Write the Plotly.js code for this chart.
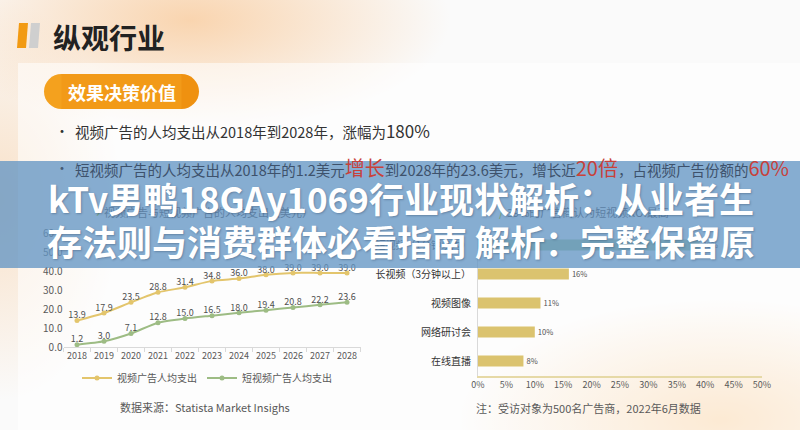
<!DOCTYPE html>
<html>
<head>
<meta charset="utf-8">
<script src="https://cdn.plot.ly/plotly-3.0.1.min.js"></script>
<style>
  html, body { margin: 0; padding: 0; }
  #chart {
    width: 800px; height: 430px;
    background:
      radial-gradient(ellipse 260px 110px at 190px 20px, rgba(249,200,150,0.75), rgba(255,255,255,0) 100%),
      radial-gradient(ellipse 120px 200px at 0px 200px, rgba(248,205,160,0.55), rgba(255,255,255,0) 100%),
      radial-gradient(ellipse 260px 120px at 720px 420px, rgba(248,190,120,0.7), rgba(255,255,255,0) 100%),
      #fafafa;
  }
</style>
</head>
<body>
<div id="chart"></div>
<script>
// ---- data ----
const years = ['2018','2019','2020','2021','2022','2023','2024','2025','2026','2027','2028'];
const videoSpend = [13.9, 17.9, 23.5, 28.8, 31.4, 34.8, 36.0, 38.0, 39.0, 39.0, 39.0];
const shortSpend = [1.2, 3.0, 7.1, 12.8, 15.0, 16.5, 18.0, 19.4, 20.8, 22.2, 23.6];
const seriesNames = ['视频广告人均支出', '短视频广告人均支出'];
const roiCats = ['短视频（1分钟以内）', '长视频（3分钟以上）', '视频图像', '网络研讨会', '在线直播'];
const roiShare = [0.39, 0.16, 0.11, 0.10, 0.08];

// ---- helpers (pixel -> paper) ----
const X = p => p / 800;
const Y = p => 1 - p / 430;
const FONT = '"Noto Sans CJK SC", "Noto Sans", sans-serif';
const cYellow = '#E3C56C', cGreen = '#9DBC84', cBar = '#DBC36F', cBarTop = '#A8C690';

const traces = [
  {x: years, y: videoSpend, name: seriesNames[0], type: 'scatter', mode: 'lines+markers',
   line: {color: cYellow, width: 2, shape: 'spline', smoothing: 0.6}, marker: {size: 5, color: cYellow},
   xaxis: 'x', yaxis: 'y'},
  {x: years, y: shortSpend, name: seriesNames[1], type: 'scatter', mode: 'lines+markers',
   line: {color: cGreen, width: 2, shape: 'spline', smoothing: 0.6}, marker: {size: 5, color: cGreen},
   xaxis: 'x', yaxis: 'y'},
  {x: years, y: videoSpend, type: 'scatter', mode: 'text', texttemplate: '%{y:.1f}', textposition: 'top center',
   textfont: {size: 9, color: '#505050'}, showlegend: false, hoverinfo: 'skip', cliponaxis: false, xaxis: 'x', yaxis: 'y'},
  {x: years, y: shortSpend, type: 'scatter', mode: 'text', texttemplate: '%{y:.1f}', textposition: 'top center',
   textfont: {size: 9, color: '#505050'}, showlegend: false, hoverinfo: 'skip', cliponaxis: false, xaxis: 'x', yaxis: 'y'},
  {x: roiShare, y: roiCats, type: 'bar', orientation: 'h', width: 0.38,
   marker: {color: roiShare.map((v, i) => i === 0 ? cBarTop : cBar)},
   texttemplate: '%{x:.0%}', textposition: 'outside', textfont: {size: 9, color: '#505050'},
   cliponaxis: false, showlegend: false, xaxis: 'x2', yaxis: 'y2'}
];

function pathPx(pts) {
  return 'M ' + pts.map(p => X(p[0]) + ',' + Y(p[1])).join(' L ') + ' Z';
}

const shapes = [
  {type: 'rect', xref: 'paper', yref: 'paper', x0: X(18), x1: X(800), y0: Y(430), y1: Y(63),
   fillcolor: 'rgba(255,255,255,0.55)', line: {width: 0}, layer: 'below'},
  {type: 'path', xref: 'paper', yref: 'paper', path: pathPx([[19,23],[28,23],[26,48],[17,48]]),
   fillcolor: '#F29A12', line: {width: 0}, layer: 'below'},
  {type: 'path', xref: 'paper', yref: 'paper', path: pathPx([[31,23],[40,23],[38,48],[29,48]]),
   fillcolor: '#CFCFCF', line: {width: 0}, layer: 'below'},
  {type: 'circle', xref: 'paper', yref: 'paper', x0: X(44), x1: X(79), y0: Y(109), y1: Y(74),
   fillcolor: '#F4A11E', line: {width: 0}, layer: 'below'},
  {type: 'circle', xref: 'paper', yref: 'paper', x0: X(164), x1: X(199), y0: Y(109), y1: Y(74),
   fillcolor: '#EF9110', line: {width: 0}, layer: 'below'},
  {type: 'rect', xref: 'paper', yref: 'paper', x0: X(61.5), x1: X(181.5), y0: Y(109), y1: Y(74),
   fillcolor: '#F29A18', line: {width: 0}, layer: 'below'},
  {type: 'rect', xref: 'paper', yref: 'paper', x0: 0, x1: 1, y0: Y(268), y1: Y(161),
   fillcolor: 'rgba(100,150,196,0.78)', line: {width: 0}, layer: 'above'}
];

const ann = (text, x, y, size, color, extra) => Object.assign({
  text: text, xref: 'paper', yref: 'paper', x: X(x), y: Y(y), showarrow: false,
  xanchor: 'left', yanchor: 'middle', font: {family: FONT, size: size, color: color}
}, extra || {});

const bannerFont = {family: FONT, size: 35, color: '#ffffff', weight: 700, shadow: '1px 1px 2px rgba(40,60,90,0.35)'};

const annotations = [
  ann('纵观行业', 51, 37, 28, '#222222', {font: {family: FONT, size: 28, color: '#222222', weight: 700}}),
  ann('效果决策价值', 121.5, 92, 18, '#ffffff', {xanchor: 'center', font: {family: FONT, size: 18, color: '#ffffff', weight: 700}}),
  ann('•', 53, 130, 14, '#333333'),
  ann('视频广告的人均支出从2018年到2028年，涨幅为<span style="font-size:17px">180%</span>', 73, 130, 14.5, '#333333'),
  ann('•', 53, 167, 14, 'rgb(70,92,118)'),
  ann('短视频广告的人均支出从2018年的1.2美元<span style="color:#c8413a;font-size:20px">增长</span>到2028年的23.6美元，增长近<span style="color:#c8413a;font-size:20px">20倍</span>，占视频广告份额的<span style="color:#c8413a;font-size:20px">60%</span>',
      73, 167, 14.5, 'rgb(62,82,108)'),
  ann('›', 94, 211, 14, 'rgb(110,160,120)'),
  ann('视频广告与短视频广告的人均支出（美元）', 102, 212, 11, 'rgb(92,128,164)'),
  ann('/', 497, 211, 12, 'rgb(110,160,120)'),
  ann('39%的广告商认为短视频ROI最高', 505, 212, 11, 'rgb(92,128,164)'),
  ann('kTv男鸭18GAy1069行业现状解析：从业者生', 401, 197, 35, '#ffffff', {xanchor: 'center', font: bannerFont}),
  ann('存法则与消费群体必看指南 解析：完整保留原', 401, 240, 35, '#ffffff', {xanchor: 'center', font: bannerFont}),
  ann('数据来源：Statista Market Insighs', 205, 407, 11, '#595959', {xanchor: 'center'}),
  ann('注：受访对象为500名广告商，2022年6月数据', 588, 408, 11, '#595959', {xanchor: 'center'})
];

const layout = {
  width: 800, height: 430,
  margin: {l: 0, r: 0, t: 0, b: 0},
  paper_bgcolor: 'rgba(0,0,0,0)', plot_bgcolor: 'rgba(0,0,0,0)',
  font: {family: FONT, size: 10, color: '#595959'},
  showlegend: true,
  legend: {orientation: 'h', x: X(207), xanchor: 'center', y: Y(378), yanchor: 'middle',
           font: {size: 10, color: '#595959'}, bgcolor: 'rgba(0,0,0,0)', itemwidth: 30, tracegroupgap: 0},
  xaxis: {domain: [X(63.5), X(360.5)], type: 'category', range: [-0.5, 10.5],
          showline: true, linecolor: '#d9d9d9', linewidth: 1, ticks: 'outside', tickson: 'boundaries',
          ticklen: 4, tickcolor: '#d9d9d9', showgrid: false, zeroline: false, tickangle: 0,
          tickfont: {size: 9, color: '#595959'}, fixedrange: true},
  yaxis: {domain: [Y(347), Y(233)], range: [0, 60], dtick: 10, tickformat: '.1f',
          showline: false, showgrid: false, zeroline: false, ticks: '',
          tickfont: {size: 10, color: '#595959'}, fixedrange: true},
  xaxis2: {domain: [X(478), X(762)], range: [0, 0.5], dtick: 0.05, tickformat: '.0%',
           showline: true, linecolor: '#E6D9A6', linewidth: 2, showgrid: false, zeroline: false,
           ticks: '', anchor: 'y2', tickangle: 0, tickfont: {size: 9, color: '#595959'}, fixedrange: true},
  yaxis2: {domain: [Y(375.5), Y(230.5)], type: 'category', autorange: 'reversed', anchor: 'x2',
           showline: true, linecolor: '#d9d9d9', linewidth: 1, showgrid: false, zeroline: false,
           ticks: '', ticklabelstandoff: 4, tickfont: {size: 10, color: '#333333'}, fixedrange: true},
  shapes: shapes,
  annotations: annotations
};

Plotly.newPlot('chart', traces, layout, {displayModeBar: false, staticPlot: true});
</script>
</body>
</html>
